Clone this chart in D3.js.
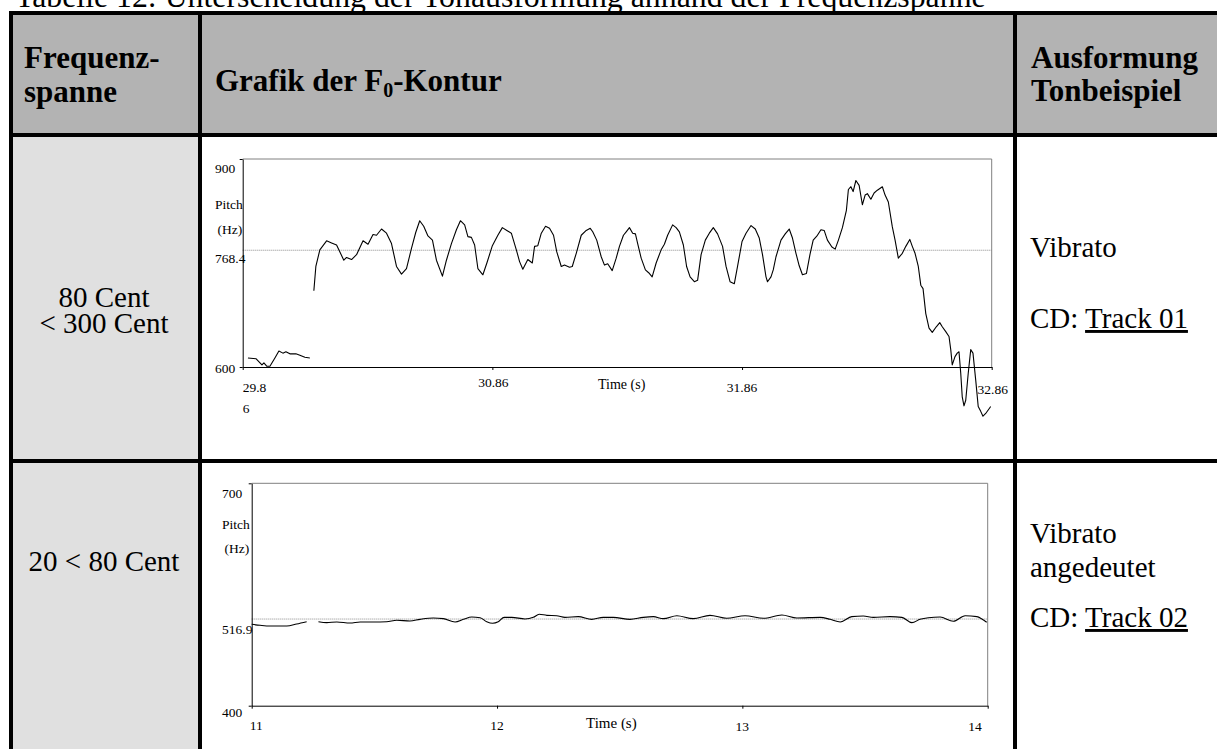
<!DOCTYPE html>
<html><head><meta charset="utf-8">
<script src="https://cdn.jsdelivr.net/npm/d3@7"></script>
<style>
html,body{margin:0;padding:0;background:#fff;}
svg{display:block;}
text{font-family:"Liberation Serif","Times New Roman",serif;fill:#000;}
</style>
</head><body>
<svg id="c" width="1217" height="749"></svg>
<script>
// ---------- texts ----------
const titleText = "Tabelle 12: Unterscheidung der Tonausformung anhand der Frequenzspanne";
const headerCol1 = ["Frequenz-", "spanne"];
const headerCol2 = ["Grafik der F", "0", "-Kontur"];
const headerCol3 = ["Ausformung", "Tonbeispiel"];
const row1Span = ["80 Cent", "< 300 Cent"];
const row2Span = ["20 < 80 Cent"];
const row1Shape = ["Vibrato"];
const row1Track = ["CD: ", "Track 01"];
const row2Shape = ["Vibrato", "angedeutet"];
const row2Track = ["CD: ", "Track 02"];

// ---------- chart 1 (80 < 300 Cent) ----------
const c1XDomain = [29.86, 32.86];
const c1YDomain = [600, 900];
const c1XTicks = [29.86, 30.86, 31.86, 32.86];
const c1XTickLabels = [["29.8", "6"], ["30.86"], ["31.86"], ["32.86"]];
const c1YTicks = [600, 900];
const c1YTickLabels = ["600", "900"];
const c1Ref = 768.4;
const c1RefLabel = "768.4";
const c1SegA_t = [29.881,29.913,29.937,29.945,29.957,29.969,29.989,30.005,30.021,30.033,30.049,30.073,30.089,30.109,30.129];
const c1SegA_hz = [613,612,603,606,601,601,613,623,620,622,619,619,617,614,613];
const c1SegB_t = [30.145,30.153,30.169,30.196,30.216,30.236,30.265,30.276,30.296,30.316,30.342,30.362,30.382,30.396,30.416,30.436,30.456,30.476,30.496,30.516,30.536,30.553,30.569,30.585,30.602,30.620,30.636,30.660,30.676,30.696,30.716,30.732,30.749,30.762,30.776,30.789,30.802,30.822,30.838,30.860,30.882,30.900,30.918,30.936,30.956,30.969,30.982,31.002,31.020,31.029,31.042,31.056,31.073,31.089,31.105,31.118,31.136,31.149,31.169,31.180,31.196,31.216,31.236,31.252,31.262,31.278,31.296,31.309,31.322,31.340,31.356,31.369,
31.385,31.396,31.409,31.422,31.433,31.442,31.456,31.473,31.486,31.500,31.516,31.536,31.549,31.562,31.582,31.596,31.609,31.625,31.638,31.652,31.669,31.682,31.696,31.713,31.729,31.745,31.762,31.782,31.796,31.812,31.829,31.842,31.860,31.876,31.896,31.913,31.929,31.942,31.956,31.962,31.976,31.985,31.996,32.016,32.033,32.049,32.062,32.076,32.089,32.102,32.118,32.132,32.145,32.162,32.176,32.189,32.202,32.220,32.233,32.246,32.262,32.278,32.286,32.296,32.305,32.316,32.329,32.342,32.353,32.362,32.376,32.389,32.402,32.422,32.433,32.446,32.462,32.473,32.486,32.502,32.516,32.532,32.542,32.553,32.566,32.576,32.585,32.596,32.609,32.622,32.638,32.652,32.662,32.676,32.689,32.696,32.702,32.713,32.722,32.729,32.736,32.742,32.749,32.756,32.766,32.776,32.785,32.796,32.806,32.816,32.825,32.836,32.856];
const c1SegB_hz = [710,745,769,782,779,776,754,758,755,762,782,777,791,790,799,793,778,745,734,742,771,794,811,803,789,783,754,731,754,778,798,811,805,788,787,776,742,733,750,775,790,801,797,793,769,752,741,755,750,774,775,793,803,800,790,766,745,747,744,745,764,790,797,800,795,783,759,747,749,739,757,774,
790,795,801,793,792,778,757,740,736,730,750,769,777,790,805,801,795,776,745,730,723,725,762,783,793,801,792,774,745,723,720,745,781,793,804,799,786,762,730,723,730,740,759,783,792,799,786,764,746,733,735,762,783,790,798,797,783,773,770,783,801,826,856,860,853,869,862,834,848,850,842,851,855,860,848,838,802,783,757,764,774,784,774,764,745,718,713,677,656,650,658,664,658,651,644,625,603,615,620,622,591,557,544,552,591,625,620,581,543,536,529,533,543];

// ---------- chart 2 (20 < 80 Cent) ----------
const c2XDomain = [11, 14];
const c2YDomain = [400, 700];
const c2XTicks = [11, 12, 13, 14];
const c2XTickLabels = [["11"], ["12"], ["13"], ["14"]];
const c2YTicks = [400, 700];
const c2YTickLabels = ["400", "700"];
const c2Ref = 516.9;
const c2RefLabel = "516.9";
const c2SegA_t = [11.000,11.034,11.075,11.143,11.183,11.224];
const c2SegA_hz = [509.8,508.5,507.5,507.5,510.2,513.3];
const c2SegB_t = [11.272,11.306,11.347,11.401,11.442,11.496,11.550,11.591,11.645,11.686,11.740,11.781,11.829,11.863,11.897,11.931,11.958,11.982,12.005,12.029,12.060,12.114,12.148,12.172,12.203,12.243,12.277,12.331,12.386,12.433,12.474,12.542,12.596,12.637,12.678,12.733,12.800,12.868,12.936,13.011,13.086,13.161,13.222,13.317,13.358,13.399,13.446,13.493,13.534,13.602,13.650,13.691,13.724,13.758,13.806,13.860,13.908,13.956,13.976,13.996];
const c2SegB_hz = [513.3,512,513,511.6,513,513,513.3,515.2,514.3,516.5,518.3,517.4,513,516.5,519.6,518.7,513.3,511.2,513.3,519.2,519.2,517,519.2,523.3,521.9,521.4,519.2,520.1,516.5,519.2,519.2,516.5,519.2,520.1,517.4,521.4,517.4,521.9,517.9,521.4,517.9,522.3,518.3,519.2,516.5,513,520.1,521,519.2,520.1,519.2,512,516.5,518.7,519.6,513.9,521.4,520.1,517,512.5];

const axisTitleY = ["Pitch", "(Hz)"];
const axisTitleX = "Time (s)";

// ---------- layout ----------
const svg = d3.select("#c");
const W = 1217, H = 749;
const colX = [11, 200, 1015, 1240];
const rowY = [13, 135, 461, 770];

// backgrounds
svg.append("rect").attr("x", colX[0]).attr("y", rowY[0]).attr("width", colX[3]-colX[0]).attr("height", rowY[1]-rowY[0]).attr("fill", "#b3b3b3");
svg.append("rect").attr("x", colX[0]).attr("y", rowY[1]).attr("width", colX[1]-colX[0]).attr("height", rowY[3]-rowY[1]).attr("fill", "#e0e0e0");

// title
svg.append("text").attr("x", 15).attr("y", 6.5).attr("font-size", 31.8).text(titleText);

// header texts
const hb = svg.append("g").attr("font-weight", "bold").attr("font-size", 31);
hb.append("text").attr("x", 24).attr("y", 68).text(headerCol1[0]);
hb.append("text").attr("x", 24).attr("y", 102).text(headerCol1[1]);
const gt = hb.append("text").attr("x", 215).attr("y", 91);
gt.append("tspan").text(headerCol2[0]);
gt.append("tspan").attr("font-size", 20).attr("dy", 6).text(headerCol2[1]);
gt.append("tspan").attr("dy", -6).text(headerCol2[2]);
hb.append("text").attr("x", 1031).attr("y", 68).text(headerCol3[0]);
hb.append("text").attr("x", 1031).attr("y", 101).text(headerCol3[1]);

// body texts
const bt = svg.append("g").attr("font-size", 29);
bt.append("text").attr("x", 104).attr("y", 307).attr("text-anchor", "middle").text(row1Span[0]);
bt.append("text").attr("x", 104).attr("y", 333).attr("text-anchor", "middle").text(row1Span[1]);
bt.append("text").attr("x", 104).attr("y", 571).attr("text-anchor", "middle").text(row2Span[0]);
bt.append("text").attr("x", 1030).attr("y", 257).text(row1Shape[0]);
const t1 = bt.append("text").attr("x", 1030).attr("y", 328);
t1.append("tspan").text(row1Track[0]);
t1.append("tspan").attr("text-decoration", "underline").text(row1Track[1]);
bt.append("text").attr("x", 1030).attr("y", 543).text(row2Shape[0]);
bt.append("text").attr("x", 1030).attr("y", 577).text(row2Shape[1]);
const t2 = bt.append("text").attr("x", 1030).attr("y", 627);
t2.append("tspan").text(row2Track[0]);
t2.append("tspan").attr("text-decoration", "underline").text(row2Track[1]);

// ---------- charts ----------
function drawChart(cfg) {
  const x = d3.scaleLinear().domain(cfg.xDomain).range(cfg.xRange);
  const y = d3.scaleLinear().domain(cfg.yDomain).range(cfg.yRange);
  const g = svg.append("g");
  // frame top & right (grey)
  g.append("path")
    .attr("d", `M${x(cfg.xDomain[0])},${y(cfg.yDomain[1])}H${x(cfg.xDomain[1])}V${y(cfg.yDomain[0])}`)
    .attr("fill", "none").attr("stroke", "#808080").attr("stroke-width", 1);
  // reference line
  g.append("line")
    .attr("x1", x(cfg.xDomain[0])).attr("x2", x(cfg.xDomain[1]))
    .attr("y1", y(cfg.ref)).attr("y2", y(cfg.ref))
    .attr("stroke", "#8a8a8a").attr("stroke-width", 1).attr("stroke-dasharray", "1,1");
  // axes
  const ax = d3.axisBottom(x).tickValues(cfg.xTicks).tickSize(3).tickSizeOuter(0).tickFormat("");
  const gx = g.append("g").attr("transform", `translate(0,${y(cfg.yDomain[0])})`).call(ax);
  const ay = d3.axisLeft(y).tickValues(cfg.yTicks).tickSize(3).tickSizeOuter(0).tickFormat("");
  const gy = g.append("g").attr("transform", `translate(${x(cfg.xDomain[0])},0)`).call(ay);
  [gx, gy].forEach(a => { a.selectAll("path,line").attr("stroke", "#000").attr("stroke-width", 1); });
  // lines
  const line = d3.line().x(d => x(d[0])).y(d => y(d[1])).curve(cfg.curve);
  cfg.segments.forEach(s => {
    const pts = s.t.map((t, i) => [t, s.hz[i]]);
    g.append("path").attr("d", line(pts)).attr("fill", "none").attr("stroke", "#000").attr("stroke-width", 1.1).attr("stroke-linejoin", "round");
  });
  // labels
  const lab = g.append("g").attr("font-size", 13.5);
  cfg.yTicks.forEach((v, i) => {
    lab.append("text").attr("x", cfg.yLabelX).attr("y", y(v) + cfg.yLabelDy[i]).attr("dominant-baseline", "central").text(cfg.yTickLabels[i]);
  });
  lab.append("text").attr("x", cfg.yLabelX).attr("y", y(cfg.ref) + cfg.refDy).attr("dominant-baseline", "central").text(cfg.refLabel);
  lab.append("text").attr("x", cfg.yLabelX).attr("y", cfg.pitchY[0]).attr("dominant-baseline", "central").text(axisTitleY[0]);
  lab.append("text").attr("x", cfg.yLabelX + 2.5).attr("y", cfg.pitchY[1]).attr("dominant-baseline", "central").text(axisTitleY[1]);
  cfg.xTicks.forEach((v, i) => {
    const lines = cfg.xTickLabels[i];
    lines.forEach((s, j) => {
      lab.append("text").attr("x", x(v) + cfg.xLabelDx[i]).attr("y", cfg.xLabelY[i] + j * 21)
        .attr("text-anchor", cfg.xLabelAnchor[i]).attr("dominant-baseline", "central").text(s);
    });
  });
  lab.append("text").attr("x", cfg.timeX).attr("y", cfg.timeY).attr("font-size", cfg.timeSize).attr("dominant-baseline", "central").text(axisTitleX);
}

drawChart({
  xDomain: c1XDomain, yDomain: c1YDomain, xRange: [242.7, 991.7], yRange: [367, 159],
  xTicks: c1XTicks, xTickLabels: c1XTickLabels, yTicks: c1YTicks, yTickLabels: c1YTickLabels,
  ref: c1Ref, refLabel: c1RefLabel, curve: d3.curveLinear,
  segments: [{t: c1SegA_t, hz: c1SegA_hz}, {t: c1SegB_t, hz: c1SegB_hz}],
  yLabelX: 215, yLabelDy: [1, 9], refDy: 8, pitchY: [204, 229],
  xLabelY: [387, 382, 387, 389], xLabelDx: [0, 1, 0, 1], xLabelAnchor: ["start", "middle", "middle", "middle"],
  timeX: 598, timeY: 384, timeSize: 14
});

drawChart({
  xDomain: c2XDomain, yDomain: c2YDomain, xRange: [251.7, 987.7], yRange: [705.7, 483.3],
  xTicks: c2XTicks, xTickLabels: c2XTickLabels, yTicks: c2YTicks, yTickLabels: c2YTickLabels,
  ref: c2Ref, refLabel: c2RefLabel, curve: d3.curveMonotoneX,
  segments: [{t: c2SegA_t, hz: c2SegA_hz}, {t: c2SegB_t, hz: c2SegB_hz}],
  yLabelX: 222, yLabelDy: [7, 10], refDy: 10, pitchY: [524, 548],
  xLabelY: [725, 725, 726, 726], xLabelDx: [-2, 0, 0, -6], xLabelAnchor: ["start", "middle", "middle", "end"],
  timeX: 586, timeY: 723, timeSize: 15
});

// ---------- table borders ----------
const bw = 4;
const bd = svg.append("g").attr("stroke", "#000").attr("stroke-width", bw);
rowY.slice(0, 3).forEach(yy => bd.append("line").attr("x1", colX[0] - bw/2).attr("x2", W + 10).attr("y1", yy).attr("y2", yy));
colX.slice(0, 3).forEach(xx => bd.append("line").attr("x1", xx).attr("x2", xx).attr("y1", rowY[0] - bw/2).attr("y2", H + 10));
</script>
</body></html>
